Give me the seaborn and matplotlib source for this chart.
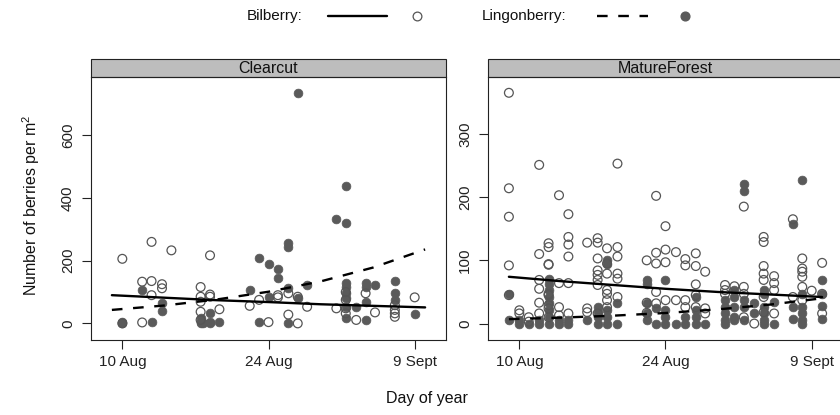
import numpy as np
import pandas as pd
import matplotlib
matplotlib.use("Agg")
import matplotlib.pyplot as plt
from matplotlib.lines import Line2D
from matplotlib.patches import Rectangle
import seaborn as sns

# ---- data (day of year, berries per m2) ----
cc_bil_day = [222.0, 222.0, 223.9, 223.9, 224.8, 224.8, 224.8, 225.8, 225.8, 226.7,
              229.5, 229.5, 229.5, 229.5, 229.5, 230.4, 230.4, 230.4, 231.3, 234.2,
              235.1, 236.0, 236.9, 236.9, 237.9, 237.9, 238.8, 238.8, 239.7, 242.5,
              243.4, 243.4, 243.4, 243.4, 244.4, 245.3, 246.2, 248.1, 248.1, 248.1,
              248.1, 250.0]
cc_bil_n = [206, 0, 133, 3, 260, 135, 90, 125, 112, 233,
            116, 85, 69, 37, 11, 217, 92, 85, 45, 56,
            75, 4, 90, 83, 96, 28, 85, 0, 53, 48,
            100, 75, 48, 32, 11, 96, 35, 58, 43, 32,
            21, 83]

cc_lin_day = [222.0, 222.0, 223.9, 224.8, 225.8, 225.8, 229.5, 229.5, 229.5, 229.7,
              230.4, 230.4, 230.4, 231.3, 234.2, 235.1, 235.1, 236.0, 236.0, 236.9,
              236.9, 237.9, 237.9, 237.9, 237.9, 238.8, 238.8, 239.7, 242.5, 243.4,
              243.4, 243.4, 243.4, 243.4, 243.4, 243.4, 243.4, 244.4, 245.3, 245.3,
              245.3, 245.3, 246.2, 248.1, 248.1, 248.1, 250.0]
cc_lin_n = [5, 0, 106, 5, 66, 39, 16, 5, 0, 2,
            32, 5, 0, 5, 108, 207, 5, 191, 85, 172,
            146, 257, 245, 112, 0, 735, 80, 122, 334, 438,
            320, 130, 117, 96, 80, 53, 16, 53, 128, 117,
            69, 11, 122, 135, 96, 75, 29]

mf_bil_day = ([221.0] * 5 + [222.0] * 2 + [222.9] * 2 + [223.9] * 6 + [224.8] * 9
              + [225.8] * 4 + [226.7] * 6 + [228.5] * 3 + [229.5] * 8 + [230.4] * 7
              + [231.4] * 6 + [234.2] * 3 + [235.1] * 5 + [236.0] * 4 + [237.0] * 2
              + [237.9] * 4 + [238.9] * 5 + [239.8] * 3 + [241.7] * 3 + [242.6] * 1
              + [243.5] * 4 + [244.5] * 1 + [245.4] * 7 + [246.4] * 4 + [248.2] * 2
              + [249.1] * 6 + [250.0] * 1 + [251.0] * 3)
mf_bil_n = [365, 214, 169, 92, 45,
            21, 16,
            10, 3,
            251, 110, 69, 55, 33, 16,
            127, 121, 94, 93, 47, 45, 29, 24, 10,
            203, 64, 26, 13,
            173, 137, 125, 106, 64, 16,
            128, 24, 18,
            135, 128, 103, 84, 77, 69, 61, 16,
            119, 95, 79, 53, 47, 37, 26,
            253, 121, 106, 79, 71, 42,
            100, 33, 17,
            202, 112, 95, 50, 32,
            154, 117, 97, 37,
            113, 37,
            102, 92, 37, 26,
            111, 91, 62, 45, 26,
            82, 24, 16,
            61, 53, 47,
            59,
            185, 58, 47, 10,
            0,
            137, 129, 91, 79, 69, 42, 18,
            75, 64, 53, 16,
            165, 42,
            103, 87, 82, 74, 58, 37,
            52,
            96, 47, 16]

mf_lin_day = ([221.0] * 2 + [222.0] * 2 + [222.9] * 1 + [223.9] * 2 + [224.8] * 8
              + [225.8] * 2 + [226.7] * 2 + [228.5] * 1 + [229.5] * 4 + [230.4] * 5
              + [231.4] * 2 + [234.2] * 5 + [235.1] * 2 + [236.0] * 4 + [237.0] * 1
              + [237.9] * 2 + [238.9] * 4 + [239.8] * 1 + [241.7] * 5 + [242.6] * 5
              + [243.5] * 5 + [244.5] * 2 + [245.4] * 6 + [246.4] * 2 + [248.2] * 3
              + [249.1] * 6 + [251.0] * 4)
mf_lin_n = [47, 5,
            5, 0,
            0,
            5, 0,
            71, 63, 53, 42, 32, 21, 10, 0,
            5, 0,
            5, 0,
            5,
            26, 18, 10, 0,
            100, 95, 21, 10, 0,
            32, 0,
            69, 63, 32, 16, 5,
            24, 0,
            69, 21, 10, 0,
            0,
            10, 0,
            42, 21, 10, 0,
            0,
            37, 26, 16, 5, 0,
            53, 42, 26, 10, 5,
            220, 210, 37, 26, 5,
            32, 16,
            53, 47, 26, 16, 5, 0,
            34, 0,
            158, 26, 8,
            227, 47, 26, 16, 5, 0,
            69, 47, 27, 8]

# fitted trend lines
fit_day = [221, 226, 231, 236, 241, 246, 251]
cc_bil_fit = [90, 82, 74, 68, 61, 56, 51]
cc_lin_fit = [43, 57, 76, 101, 134, 178, 236]
mf_bil_fit = [74, 67, 61, 55, 50, 46, 42]
mf_lin_fit = [7, 9.4, 12.5, 16.7, 22.4, 30, 40]

habitats = ["Clearcut", "MatureForest"]
x_ticks = [222, 236, 250]
x_labels = ["10 Aug", "24 Aug", "9 Sept"]
y_ticks = {"Clearcut": [0, 200, 400, 600], "MatureForest": [0, 100, 200, 300]}
y_lims = {"Clearcut": (-53, 786), "MatureForest": (-26, 390)}

points = pd.concat([
    pd.DataFrame({"habitat": "Clearcut", "species": "Bilberry", "day": cc_bil_day, "n": cc_bil_n}),
    pd.DataFrame({"habitat": "Clearcut", "species": "Lingonberry", "day": cc_lin_day, "n": cc_lin_n}),
    pd.DataFrame({"habitat": "MatureForest", "species": "Bilberry", "day": mf_bil_day, "n": mf_bil_n}),
    pd.DataFrame({"habitat": "MatureForest", "species": "Lingonberry", "day": mf_lin_day, "n": mf_lin_n}),
], ignore_index=True)
fits = {"Clearcut": (cc_bil_fit, cc_lin_fit), "MatureForest": (mf_bil_fit, mf_lin_fit)}

sns.set_style("white")
plt.rcParams["font.family"] = ["Liberation Sans", "DejaVu Sans"]

W, H = 840, 415
fig = plt.figure(figsize=(W / 100, H / 100), dpi=100)

open_col = "#555555"
fill_col = "#5a5a5a"
dash = (0, (4.5, 4.5))
box_px = (77, 340)
lefts = [91, 488]
width_px = 355

for hab, left in zip(habitats, lefts):
    ax = fig.add_axes([left / W, 1 - box_px[1] / H, width_px / W, (box_px[1] - box_px[0]) / H])
    sub = points[points["habitat"] == hab]
    lin = sub[sub["species"] == "Lingonberry"]
    bil = sub[sub["species"] == "Bilberry"]
    sns.scatterplot(data=lin, x="day", y="n", ax=ax, s=40, color=fill_col,
                    edgecolor=fill_col, linewidth=0.5)
    sns.scatterplot(data=bil, x="day", y="n", ax=ax, s=40, facecolor="none",
                    edgecolor=open_col, linewidth=0.9)
    bil_fit, lin_fit = fits[hab]
    sns.lineplot(x=fit_day, y=bil_fit, ax=ax, color="black", linewidth=1.7)
    sns.lineplot(x=fit_day, y=lin_fit, ax=ax, color="black", linewidth=1.7, linestyle=dash)

    ax.set_xlim(219, 253)
    ax.set_ylim(*y_lims[hab])
    ax.set_xticks(x_ticks)
    ax.set_xticklabels(x_labels)
    ax.set_yticks(y_ticks[hab])
    ax.set_xlabel("")
    ax.set_ylabel("")
    ax.tick_params(axis="both", direction="out", length=6.5, width=0.8, color="#222222",
                   labelsize=11, colors="#222222", pad=4, bottom=True, left=True)
    ax.tick_params(axis="y", labelrotation=90, pad=5)
    for lab in ax.get_yticklabels():
        lab.set_va("center")
    for sp in ax.spines.values():
        sp.set_color("#222222")
        sp.set_linewidth(0.8)

    # lattice-style strip on top of each panel
    strip_h = 18 / (box_px[1] - box_px[0])
    ax.add_patch(Rectangle((0, 1), 1, strip_h, transform=ax.transAxes, clip_on=False,
                           facecolor="#bdbdbd", edgecolor="#222222", linewidth=0.8))
    ax.text(0.5, 1 + strip_h / 2, hab, transform=ax.transAxes, ha="center", va="center",
            fontsize=11.5, color="#111111")

# axis titles
fig.text(0.037, 1 - 205 / H, r"Number of berries per m$^\mathregular{2}$", rotation=90,
         ha="center", va="center", fontsize=11.5, color="#111111")
fig.text(427 / W, 1 - 398 / H, "Day of year", ha="center", va="center",
         fontsize=11.5, color="#111111")

# key at the top
ky = 1 - 16 / H
fig.text(303 / W, ky, "Bilberry:", ha="right", va="center", fontsize=11, color="#111111")
fig.add_artist(Line2D([328 / W, 387 / W], [ky, ky], transform=fig.transFigure,
                      color="black", linewidth=1.7))
fig.add_artist(Line2D([417 / W], [ky], transform=fig.transFigure, marker="o", markersize=6.3,
                      markerfacecolor="none", markeredgecolor=open_col, markeredgewidth=0.9,
                      linestyle="none"))
fig.text(482 / W, ky, "Lingonberry:", ha="left", va="center", fontsize=11, color="#111111")
fig.add_artist(Line2D([597 / W, 648 / W], [ky, ky], transform=fig.transFigure,
                      color="black", linewidth=1.7, linestyle=dash))
fig.add_artist(Line2D([685 / W], [ky], transform=fig.transFigure, marker="o", markersize=6.3,
                      markerfacecolor=fill_col, markeredgecolor=fill_col, linestyle="none"))

fig.savefig("out.png", dpi=100)
